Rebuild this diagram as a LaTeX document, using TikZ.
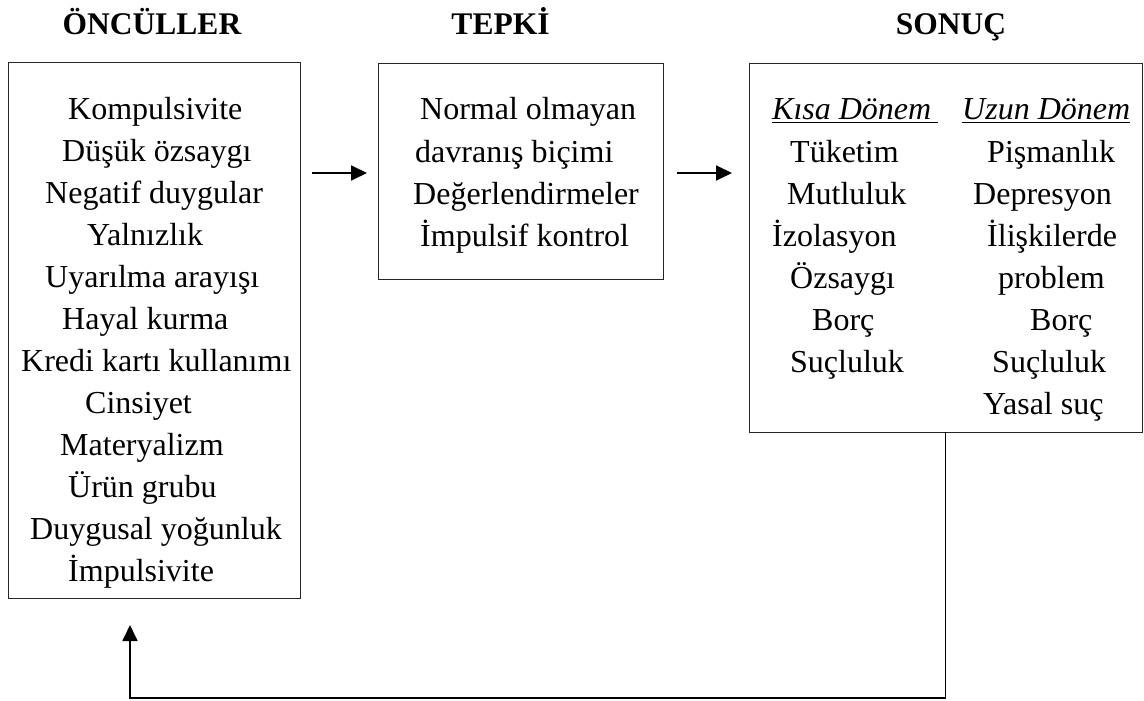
\documentclass[tikz,border=0pt]{standalone}
\usepackage{fontspec}
\setmainfont{Liberation Serif}
\usetikzlibrary{arrows.meta}
\begin{document}
\begin{tikzpicture}[x=1pt,y=-1pt,
  box/.style={draw=black!85,line width=1pt,inner sep=0pt,outer sep=0pt},
  txt/.style={anchor=base west,inner sep=0pt,font=\fontsize{32}{38}\selectfont},
  itxt/.style={txt,font=\fontsize{32}{38}\selectfont\itshape},
  head/.style={anchor=base,inner sep=0pt,font=\fontsize{31.5}{36}\selectfont\bfseries},
  arr/.style={line width=1.8pt,-{Triangle[length=16pt,width=15pt]}},
  uline/.style={line width=1.6pt}]
\useasboundingbox (0,0) rectangle (1144,701);
% headers
\node[head] (h1) at (152,35) {ÖNCÜLLER};
\node[head] (h2) at (500.5,35) {TEPKİ};
\node[head] (h3) at (951,35) {SONUÇ};
% boxes
\node[box,minimum width=292pt,minimum height=535pt] (ante) at (154,330.5) {};
\node[box,minimum width=285pt,minimum height=215pt] (resp) at (520.5,171.5) {};
\node[box,minimum width=393pt,minimum height=368pt] (out) at (945.5,248) {};
% left box text
\foreach \x/\y/\t [count=\i] in {68/119/Kompulsivite, 62/161/Düşük özsaygı,
  45/203/Negatif duygular, 87/245/Yalnızlık, 45/287/Uyarılma arayışı,
  62/329/Hayal kurma, 21/371/Kredi kartı kullanımı, 85/413/Cinsiyet,
  60/455/Materyalizm, 68/497/Ürün grubu, 30/539/Duygusal yoğunluk,
  68/581/İmpulsivite}
  \node[txt] (a\i) at (\x,\y) {\t};
% middle box text
\foreach \x/\y/\t [count=\i] in {420/120/Normal olmayan, 415/162/davranış biçimi,
  413/204/Değerlendirmeler, 420/246/İmpulsif kontrol}
  \node[txt] (b\i) at (\x,\y) {\t};
% right box headings
\node[itxt] (k0) at (772,120) {Kısa Dönem};
\node[itxt] (u0) at (962,120) {Uzun Dönem};
\draw[uline] ([yshift=-2.5pt]k0.base west) -- ++(166,0);
\draw[uline] ([yshift=-2.5pt]u0.base west) -- ++(168,0);
\foreach \x/\y/\t [count=\i] in {790/162/Tüketim, 787/204/Mutluluk,
  772/246/İzolasyon, 790/288/Özsaygı, 812/330/Borç, 790/372/Suçluluk}
  \node[txt] (k\i) at (\x,\y) {\t};
\foreach \x/\y/\t [count=\i] in {987/162/Pişmanlık, 973/204/Depresyon,
  987/246/İlişkilerde, 998/288/problem, 1030/330/Borç, 992/372/Suçluluk,
  983/414/Yasal suç}
  \node[txt] (u\i) at (\x,\y) {\t};
% connectors
\draw[arr,shorten <=12pt,shorten >=11pt] ([yshift=-1.5pt]ante.east |- resp.west) -- ([yshift=-1.5pt]resp.west);
\draw[arr,shorten <=14pt,shorten >=17pt] ([yshift=-1.5pt]resp.east) -- ([yshift=-1.5pt]resp.east -| out.west);
\coordinate (fbl) at (130,698);
\draw[arr,shorten >=27pt] (out.south) |- (fbl) -- (fbl |- ante.south);
\end{tikzpicture}
\end{document}
